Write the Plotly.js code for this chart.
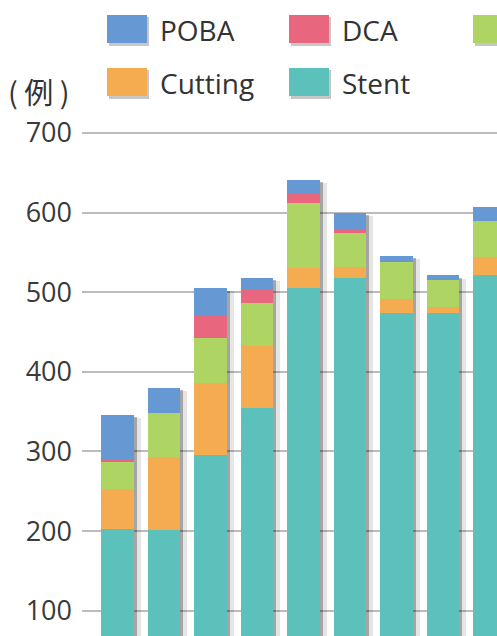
<!DOCTYPE html>
<html>
<head>
<meta charset="utf-8">
<script src="https://cdn.plot.ly/plotly-3.0.1.min.js"></script>
<style>html,body{margin:0;padding:0;background:#fff;}#chart{width:497px;height:636px;}</style>
</head>
<body>
<div id="chart"></div>
<script>
// ---- data ----
var categories = ["1", "2", "3", "4", "5", "6", "7", "8", "9"];
var stent      = [202, 201, 295, 355, 505, 518, 474, 474, 521];
var cutting    = [51, 92, 91, 78, 25, 13, 17, 7, 23];
var rotablator = [34, 55, 57, 53, 82, 43, 47, 34, 45];
var dca        = [3, 0, 28, 18, 13, 5, 0, 0, 0];
var poba       = [56, 32, 34, 14, 16, 21, 8, 6, 18];
var seriesNames = ["POBA", "DCA", "Rotablator", "Cutting", "Stent"];
var yTicks = [100, 200, 300, 400, 500, 600, 700];

// ---- style ----
var colors = {POBA: "#6699d3", DCA: "#e8677f", Rotablator: "#aed563", Cutting: "#f5ab4f", Stent: "#5cc1ba"};
var W = 497, H = 636, ML = 82, MT = 117;
var PW = W - ML, PH = H - MT;
var xRange = [-0.763, 8.162];
var barW = 0.69;
var unitPx = PW / (xRange[1] - xRange[0]);
function px(x) { return (x - ML) / PW; }
function py(y) { return (H - y) / PH; }

var totals = categories.map(function (c, i) {
  return stent[i] + cutting[i] + rotablator[i] + dca[i] + poba[i];
});

var traces = [];
// shadows (separate overlaid subplots so they do not stack)
traces.push({type: "bar", x: categories, y: totals.map(function (t) { return t - 4; }),
  width: barW, offset: -barW / 2 + 7 / unitPx, marker: {color: "rgba(0,0,0,0.10)", line: {width: 0}},
  xaxis: "x", yaxis: "y", hoverinfo: "skip", showlegend: false});
traces.push({type: "bar", x: categories, y: totals.map(function (t) { return t - 3; }),
  width: barW, offset: -barW / 2 + 3 / unitPx, marker: {color: "rgba(0,0,0,0.28)", line: {width: 0}},
  xaxis: "x2", yaxis: "y", hoverinfo: "skip", showlegend: false});

var stackOrder = [["Stent", stent], ["Cutting", cutting], ["Rotablator", rotablator], ["DCA", dca], ["POBA", poba]];
stackOrder.forEach(function (s) {
  traces.push({type: "bar", name: s[0], x: categories, y: s[1], width: barW,
    marker: {color: colors[s[0]], line: {width: 0}}, xaxis: "x3", yaxis: "y", showlegend: false});
});

// manual legend
var shapes = [], annotations = [];
var legendItems = [
  {name: "POBA", x: 107, y: 15}, {name: "DCA", x: 289, y: 15}, {name: "Rotablator", x: 473, y: 15},
  {name: "Cutting", x: 107, y: 68}, {name: "Stent", x: 289, y: 68}
];
legendItems.forEach(function (it) {
  shapes.push({type: "rect", xref: "paper", yref: "paper",
    x0: px(it.x + 2), x1: px(it.x + 42), y0: py(it.y + 2), y1: py(it.y + 31),
    fillcolor: "rgba(0,0,0,0.22)", line: {width: 0}, layer: "above"});
  shapes.push({type: "rect", xref: "paper", yref: "paper",
    x0: px(it.x), x1: px(it.x + 40), y0: py(it.y), y1: py(it.y + 28),
    fillcolor: colors[it.name], line: {width: 0}, layer: "above"});
  if (it.x + 53 < W - 20) {
    annotations.push({xref: "paper", yref: "paper", x: px(it.x + 51), y: py(it.y + 15),
      xanchor: "left", yanchor: "middle", showarrow: false, text: it.name,
      font: {family: "Open Sans, sans-serif", size: 28, color: "#333"}});
  }
});
annotations.push({xref: "paper", yref: "paper", x: px(6), y: py(91), xanchor: "left", yanchor: "middle",
  showarrow: false, text: "( 例 )", font: {family: "Noto Sans CJK JP, sans-serif", size: 29, color: "#333"}});

var layout = {
  width: W, height: H,
  margin: {l: ML, r: 0, t: MT, b: 0, pad: 0},
  paper_bgcolor: "#fff", plot_bgcolor: "rgba(0,0,0,0)",
  barmode: "stack", showlegend: false,
  xaxis: {type: "category", range: xRange, showticklabels: false, showgrid: false, zeroline: false,
    showline: false, ticks: "", fixedrange: true},
  xaxis2: {type: "category", overlaying: "x", range: xRange, visible: false, fixedrange: true},
  xaxis3: {type: "category", overlaying: "x", range: xRange, visible: false, fixedrange: true},
  yaxis: {range: [68.2, 720], tickvals: yTicks, ticktext: yTicks.map(String), showgrid: true,
    gridcolor: "#bcbcbc", gridwidth: 2, zeroline: false, showline: false, ticks: "",
    ticklabelstandoff: 9, tickfont: {family: "Open Sans, sans-serif", size: 27, color: "#3a3a3a"},
    fixedrange: true},
  shapes: shapes, annotations: annotations
};

Plotly.newPlot("chart", traces, layout, {displayModeBar: false, staticPlot: true});
</script>
</body>
</html>
